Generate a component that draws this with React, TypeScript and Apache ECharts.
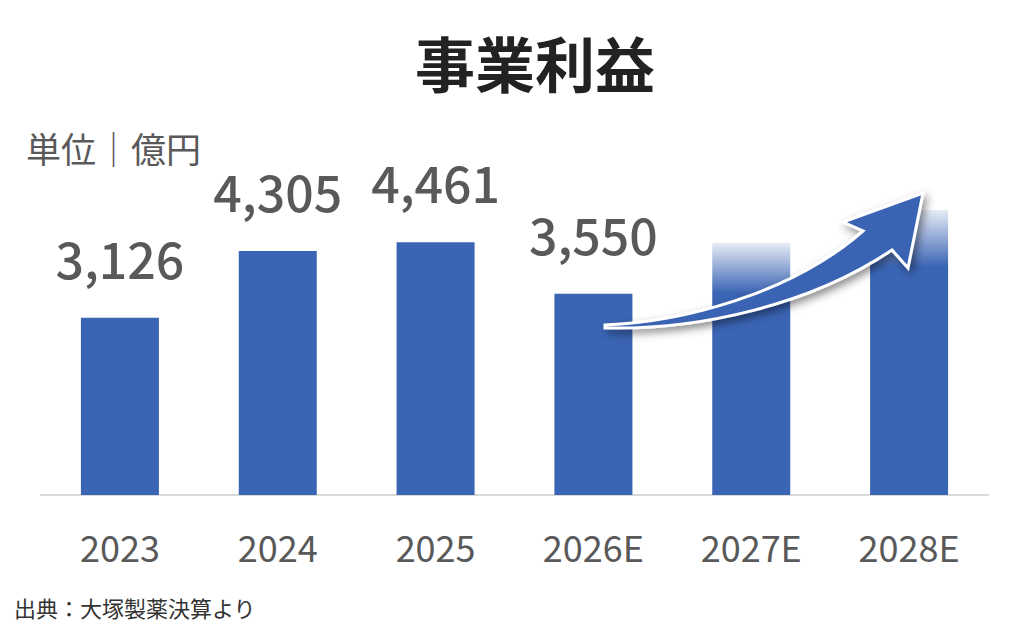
import React, { useEffect, useRef } from "react";
import * as echarts from "echarts";

const categories = ["2023", "2024", "2025", "2026E", "2027E", "2028E"];
const profits = [3126, 4305, 4461, 3550, null, null];
const projectionBars = [null, null, null, null, 4450, 5030];
const titleText = "事業利益";
const unitText = "単位｜億円";
const sourceText = "出典：大塚製薬決算より";

const FONT = '"Noto Sans CJK JP", "Noto Sans", sans-serif';
const BLUE = "#3a64b4";
const ARROW_D =
  "M605,325 C680,322 790,295 863,231 L843,222 L923,193 L908,268 L892,250 C810,305 700,330 605,328 Z";

let registered = false;

export default function App() {
  const ref = useRef<HTMLDivElement>(null);
  useEffect(() => {
    if (!ref.current) return;
    if (!registered) {
      echarts.graphic.registerShape("logo", echarts.graphic.extendPath(ARROW_D, {}));
      registered = true;
    }
    const chart = echarts.init(ref.current, null, { renderer: "svg" });
    const fade = {
      type: "linear",
      x: 0,
      y: 0,
      x2: 0,
      y2: 1,
      colorStops: [
        { offset: 0, color: "rgba(58,100,180,0.12)" },
        { offset: 0.2, color: "rgba(58,100,180,1)" },
        { offset: 1, color: "rgba(58,100,180,1)" },
      ],
    };
    chart.setOption({
      animation: false,
      backgroundColor: "#ffffff",
      title: {
        text: titleText,
        left: 410,
        top: 26,
        textStyle: { fontFamily: FONT, fontSize: 60, fontWeight: "bold", color: "#222222" },
      },
      grid: { left: 41, right: 36, top: 155, bottom: 147, containLabel: false },
      xAxis: {
        type: "category",
        data: categories,
        axisLine: { lineStyle: { color: "#d9d9d9", width: 2 } },
        axisTick: { show: false },
        axisLabel: { fontFamily: FONT, fontSize: 36, color: "#595959", margin: 33 },
      },
      yAxis: {
        type: "value",
        min: 0,
        max: 6000,
        show: false,
        splitLine: { show: false },
      },
      series: [
        {
          type: "bar",
          data: profits,
          barWidth: 78,
          itemStyle: { color: BLUE },
          label: {
            show: true,
            position: "top",
            distance: 36,
            fontFamily: FONT,
            fontSize: 50,
            fontWeight: 500,
            color: "#595959",
            formatter: (p: any) => Number(p.value).toLocaleString("en-US"),
          },
        },
        {
          type: "bar",
          data: projectionBars,
          barWidth: 78,
          barGap: "-100%",
          itemStyle: { color: fade },
        },
      ],
      graphic: [
        {
          type: "text",
          left: 26,
          top: 130,
          style: { text: unitText, fontFamily: FONT, fontSize: 35, fill: "#595959" },
        },
        {
          type: "text",
          left: 14,
          top: 596,
          style: { text: sourceText, fontFamily: FONT, fontSize: 22, fill: "#333333" },
        },
        {
          type: "logo",
          x: 0,
          y: 0,
          z: 100,
          style: {
            fill: BLUE,
            stroke: "#ffffff",
            lineWidth: 3,
            shadowBlur: 8,
            shadowColor: "rgba(0,0,0,0.45)",
            shadowOffsetX: 3,
            shadowOffsetY: 4,
          },
        },
      ],
    });
    return () => chart.dispose();
  }, []);
  return (
    <div
      ref={ref}
      style={{ position: "absolute", left: 0, top: 0, width: 1024, height: 642, background: "#fff" }}
    />
  );
}
